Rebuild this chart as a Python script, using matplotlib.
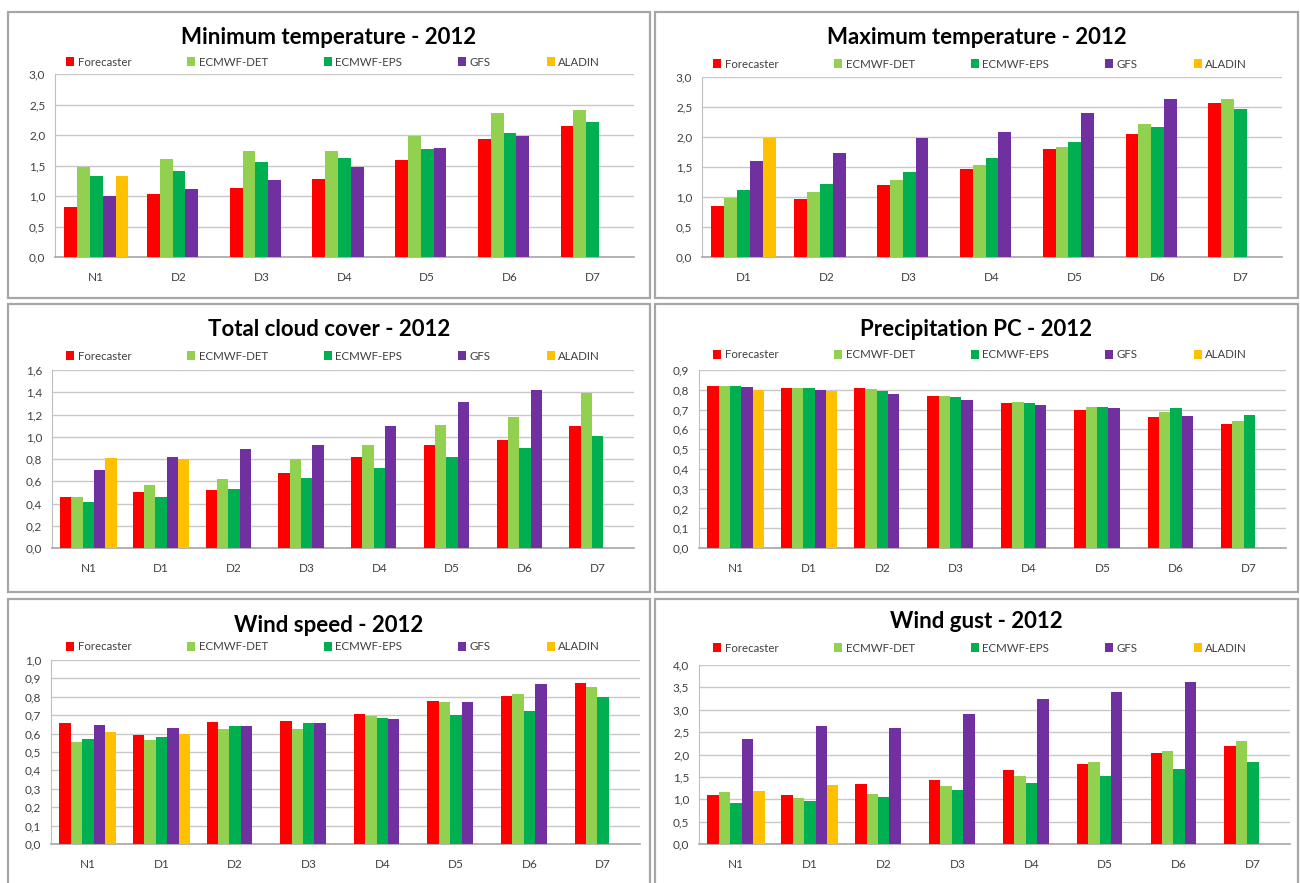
import numpy as np
import matplotlib
matplotlib.use('Agg')
import matplotlib.pyplot as plt
from matplotlib.patches import Rectangle
from matplotlib.ticker import FuncFormatter, MultipleLocator

nan = np.nan

series_names = ['Forecaster', 'ECMWF-DET', 'ECMWF-EPS', 'GFS', 'ALADIN']
series_colors = ['#FF0000', '#92D050', '#00B050', '#7030A0', '#FFC000']

# Minimum temperature
tmin_cats = ['N1', 'D2', 'D3', 'D4', 'D5', 'D6', 'D7']
tmin_fc = [0.82, 1.04, 1.13, 1.28, 1.59, 1.93, 2.14]
tmin_det = [1.47, 1.61, 1.73, 1.73, 1.98, 2.36, 2.41]
tmin_eps = [1.33, 1.41, 1.55, 1.63, 1.77, 2.04, 2.22]
tmin_gfs = [1.00, 1.12, 1.26, 1.47, 1.78, 1.98, nan]
tmin_ala = [1.33, nan, nan, nan, nan, nan, nan]

# Maximum temperature
tmax_cats = ['D1', 'D2', 'D3', 'D4', 'D5', 'D6', 'D7']
tmax_fc = [0.85, 0.97, 1.20, 1.47, 1.80, 2.05, 2.56]
tmax_det = [0.99, 1.09, 1.28, 1.53, 1.84, 2.21, 2.63]
tmax_eps = [1.12, 1.22, 1.42, 1.65, 1.92, 2.16, 2.47]
tmax_gfs = [1.60, 1.73, 1.99, 2.08, 2.40, 2.63, nan]
tmax_ala = [1.99, nan, nan, nan, nan, nan, nan]

# Other panels share these categories
cats8 = ['N1', 'D1', 'D2', 'D3', 'D4', 'D5', 'D6', 'D7']

cloud_fc = [0.46, 0.50, 0.52, 0.67, 0.82, 0.93, 0.97, 1.10]
cloud_det = [0.46, 0.57, 0.62, 0.80, 0.93, 1.11, 1.18, 1.39]
cloud_eps = [0.41, 0.46, 0.53, 0.63, 0.72, 0.82, 0.90, 1.01]
cloud_gfs = [0.70, 0.82, 0.89, 0.93, 1.10, 1.31, 1.42, nan]
cloud_ala = [0.81, 0.80, nan, nan, nan, nan, nan, nan]

prec_fc = [0.820, 0.810, 0.810, 0.770, 0.735, 0.700, 0.660, 0.628]
prec_det = [0.818, 0.810, 0.805, 0.768, 0.737, 0.714, 0.689, 0.642]
prec_eps = [0.820, 0.811, 0.795, 0.764, 0.735, 0.714, 0.709, 0.670]
prec_gfs = [0.815, 0.800, 0.780, 0.747, 0.725, 0.709, 0.667, nan]
prec_ala = [0.800, 0.795, nan, nan, nan, nan, nan, nan]

wspd_fc = [0.660, 0.595, 0.664, 0.671, 0.705, 0.776, 0.807, 0.873]
wspd_det = [0.555, 0.566, 0.626, 0.626, 0.694, 0.770, 0.816, 0.852]
wspd_eps = [0.573, 0.584, 0.644, 0.656, 0.687, 0.700, 0.723, 0.797]
wspd_gfs = [0.647, 0.629, 0.644, 0.656, 0.682, 0.770, 0.868, nan]
wspd_ala = [0.609, 0.599, nan, nan, nan, nan, nan, nan]

gust_fc = [1.09, 1.09, 1.33, 1.44, 1.65, 1.78, 2.04, 2.20]
gust_det = [1.16, 1.03, 1.12, 1.30, 1.53, 1.84, 2.07, 2.31]
gust_eps = [0.91, 0.97, 1.04, 1.20, 1.36, 1.51, 1.68, 1.84]
gust_gfs = [2.34, 2.63, 2.60, 2.90, 3.23, 3.40, 3.63, nan]
gust_ala = [1.18, 1.31, nan, nan, nan, nan, nan, nan]

W, H = 1300, 883
fig = plt.figure(figsize=(13, 8.83), dpi=100)
fig.patch.set_facecolor('white')
plt.rcParams['font.family'] = ['Lato', 'DejaVu Sans']


def px_rect(x0, y0, x1, y1):
    # pixel box (top-left origin) -> figure fraction rect
    return [x0 / W, 1 - y1 / H, (x1 - x0) / W, (y1 - y0) / H]


def panel(frame, plot, title, title_y, legend_y, cats, values, ymax, ystep):
    fx0, fy0, fx1, fy1 = frame
    fig.patches.append(Rectangle((fx0 / W, 1 - fy1 / H), (fx1 - fx0) / W, (fy1 - fy0) / H,
                                 transform=fig.transFigure, fill=False,
                                 edgecolor='#A6A6A6', linewidth=1.6))
    fig.text((fx0 + fx1) / 2 / W, 1 - title_y / H, title, ha='center', va='center',
             fontsize=16, fontweight='bold', color='black')

    ax = fig.add_axes(px_rect(*plot))
    x = np.arange(len(cats))
    w = 0.155
    handles = []
    for i, (vals, name, col) in enumerate(zip(values, series_names, series_colors)):
        b = ax.bar(x + (i - 2) * w, vals, width=w, color=col, label=name, zorder=3)
        handles.append(b)
    ax.set_xlim(-0.5, len(cats) - 0.5)
    ax.set_ylim(0, ymax)
    ax.yaxis.set_major_locator(MultipleLocator(ystep))
    ax.yaxis.set_major_formatter(FuncFormatter(lambda v, p: ('%.1f' % v).replace('.', ',')))
    ax.set_xticks(x)
    ax.set_xticklabels(cats)
    ax.grid(axis='y', color='#C8C8C8', linewidth=1.0, zorder=0)
    for s in ['top', 'right']:
        ax.spines[s].set_visible(False)
    ax.spines['left'].set_color('#BFBFBF')
    ax.spines['bottom'].set_color('#A6A6A6')
    ax.spines['bottom'].set_linewidth(1.2)
    ax.tick_params(axis='both', length=0, labelsize=8.5, colors='#404040')
    ax.tick_params(axis='x', pad=11)
    ax.tick_params(axis='y', pad=7)

    ax_h = plot[3] - plot[1]
    ax_w = plot[2] - plot[0]
    lx0 = (fx0 + 58 - plot[0]) / ax_w
    lx1 = (fx0 + 592 - plot[0]) / ax_w
    yc = 1 + (plot[1] - legend_y) / ax_h
    ax.legend(handles=handles, loc='center', bbox_to_anchor=(lx0, yc, lx1 - lx0, 0),
              mode='expand', ncol=5, frameon=False, fontsize=8.3, handlelength=0.7,
              handleheight=0.7, handletextpad=0.3, borderpad=0, borderaxespad=0,
              labelcolor='#404040')
    return ax


panel((8, 12, 650, 298), (55, 74, 634, 257), 'Minimum temperature - 2012', 38, 62,
      tmin_cats, [tmin_fc, tmin_det, tmin_eps, tmin_gfs, tmin_ala], 3.0, 0.5)
panel((655, 12, 1298, 298), (702, 77, 1282, 257), 'Maximum temperature - 2012', 38, 64,
      tmax_cats, [tmax_fc, tmax_det, tmax_eps, tmax_gfs, tmax_ala], 3.0, 0.5)
panel((8, 304, 650, 592), (52, 370, 634, 548), 'Total cloud cover - 2012', 329, 356,
      cats8, [cloud_fc, cloud_det, cloud_eps, cloud_gfs, cloud_ala], 1.6, 0.2)
panel((655, 304, 1298, 592), (699, 370, 1286, 548), 'Precipitation PC - 2012', 329, 355,
      cats8, [prec_fc, prec_det, prec_eps, prec_gfs, prec_ala], 0.9, 0.1)
panel((8, 599, 650, 890), (51, 660, 640, 844), 'Wind speed - 2012', 625, 647,
      cats8, [wspd_fc, wspd_det, wspd_eps, wspd_gfs, wspd_ala], 1.0, 0.1)
panel((655, 599, 1298, 890), (699, 665, 1290, 844), 'Wind gust - 2012', 621, 648,
      cats8, [gust_fc, gust_det, gust_eps, gust_gfs, gust_ala], 4.0, 0.5)

fig.savefig('out.png', dpi=100)
